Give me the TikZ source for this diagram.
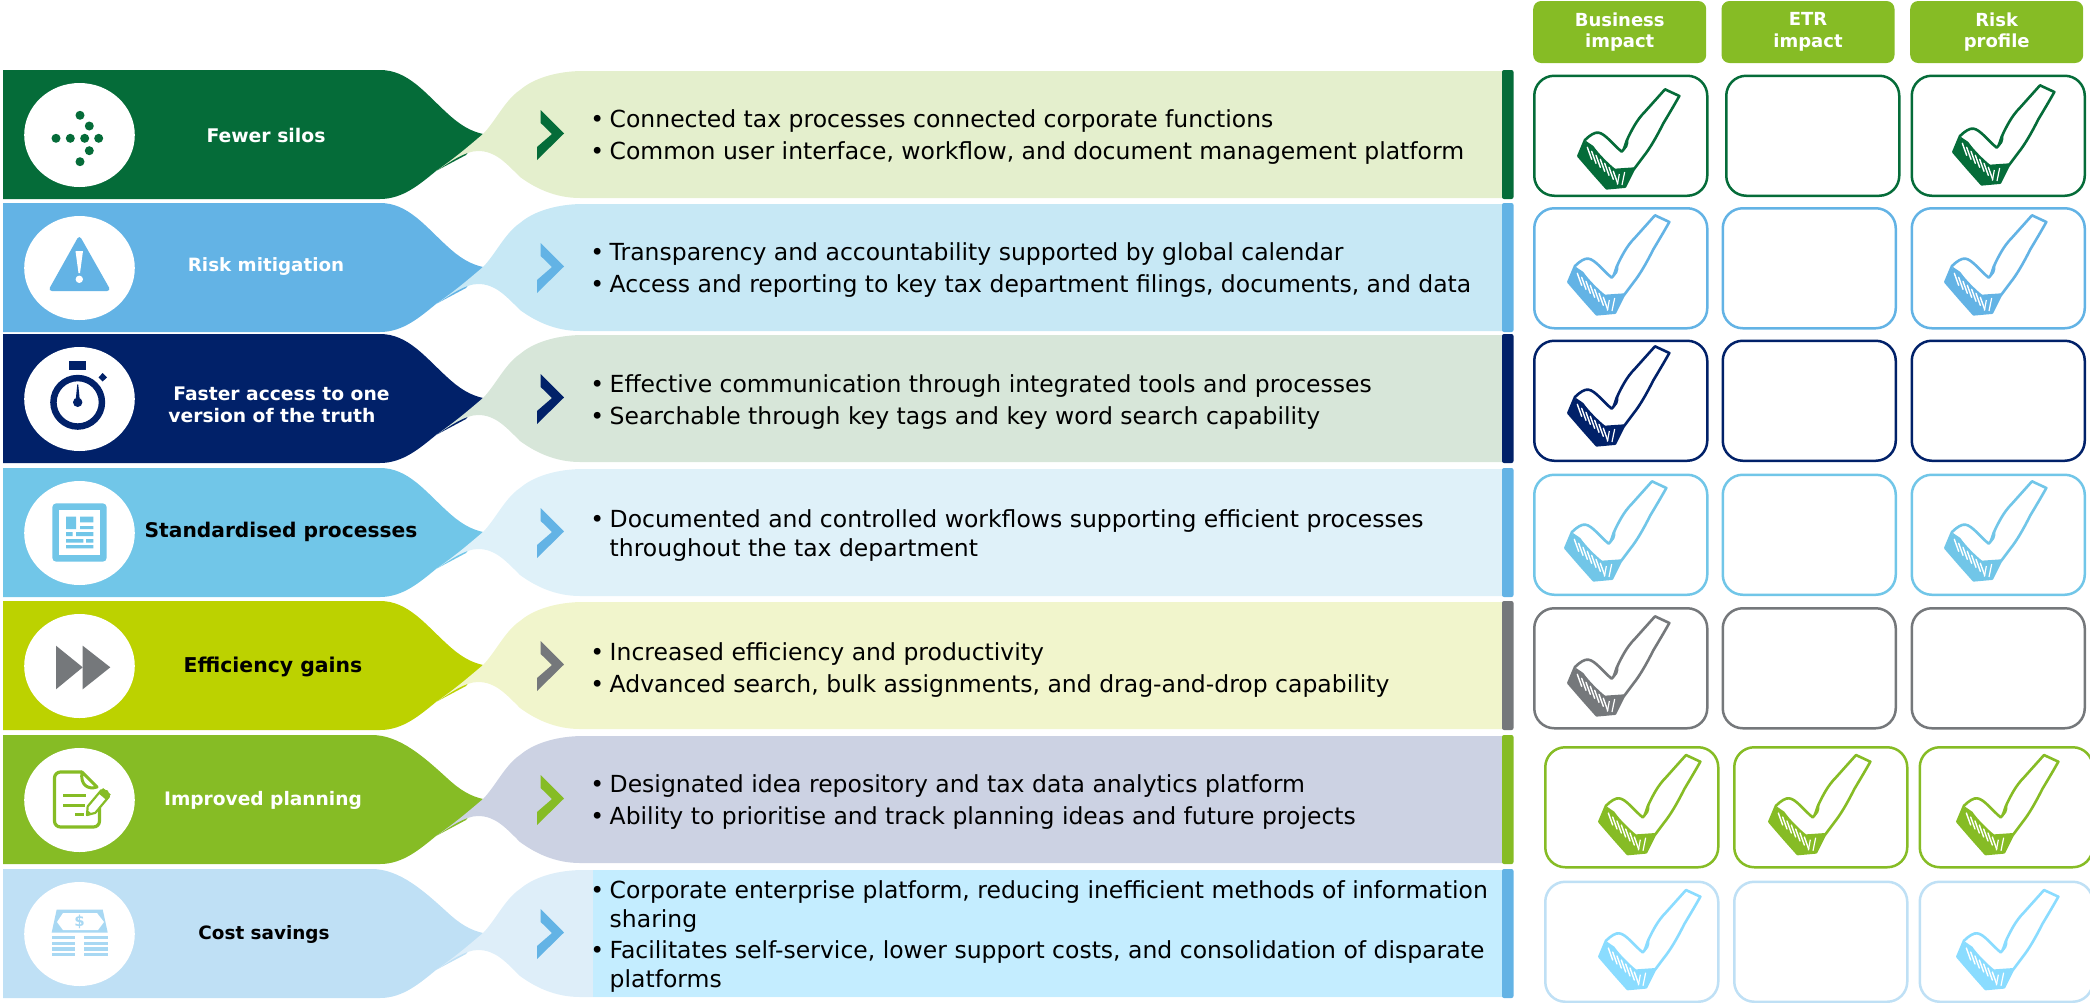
\documentclass[tikz,border=0pt]{standalone}
\usepackage{fontspec}
\setmainfont{DejaVu Sans}
\definecolor{cGreenD}{HTML}{056C39}
\definecolor{cBlue}{HTML}{63B3E5}
\definecolor{cNavy}{HTML}{012169}
\definecolor{cCyan}{HTML}{71C6E8}
\definecolor{cLime}{HTML}{BCD200}
\definecolor{cGray}{HTML}{75787B}
\definecolor{cGreen}{HTML}{86BC25}
\definecolor{cPale}{HTML}{BFE0F5}
\definecolor{cTick}{HTML}{8ADCFF}
\definecolor{cMoney}{HTML}{A8D8F3}
\definecolor{lGreenD}{HTML}{E4EFCD}
\definecolor{lBlue}{HTML}{C7E8F5}
\definecolor{lNavy}{HTML}{D7E6D9}
\definecolor{lCyan}{HTML}{DFF1F9}
\definecolor{lLime}{HTML}{F1F5CC}
\definecolor{lGreen}{HTML}{CCD2E3}
\definecolor{lPale}{HTML}{DEEEF9}
\definecolor{lSky}{HTML}{C4EDFF}
\newcommand{\bul}{\llap{\makebox[25pt][c]{•}}\rule{0pt}{20pt}}
% top, curve start, dark, light, accent
\newcommand{\banner}[5]{%
 \begin{scope}[shift={(0,#1)}]
 \fill[#3] (3,0) -- (#2,0) .. controls ({#2+28},0) and (425,23) .. (447,43)
   .. controls (460,55) and (470,61) .. (483,64) -- (466,85) -- (436,101)
   .. controls (420,114) and (403,129) .. (380,129) -- (3,129) -- cycle;
 \fill[#4] (436,101) .. controls (455,88) and (470,75) .. (483,64)
   .. controls (495,52) and (505,30) .. (520,20) .. controls (535,7) and (560,1) .. (583,1)
   -- (1503,1) -- (1503,128) -- (580,128)
   .. controls (555,128) and (535,118) .. (520,107) .. controls (505,92) and (495,81) .. (478,81)
   .. controls (465,81) and (450,92) .. (436,101) -- cycle;
 \fill[#5,rounded corners=2pt] (1502,0) -- (1513.5,0) -- (1513.5,129) -- (1502,129) -- cycle;
 \fill[#5] (540.7,40) -- (564,63.5) -- (537,90) -- (537,77) -- (552,64) -- (540.7,53) -- cycle;
 \fill[white] (79.5,65) ellipse [x radius=55.3pt,y radius=52pt];
 \end{scope}}
% the hand-drawn tick; origin = top-left of crop at row 1, column 1
\tikzset{pics/tick/.style={code={
 \begin{scope}[x=0.3333pt,y=-0.3333pt]
 \filldraw[fill=white,draw=#1,line width=2.6pt,line join=round]
   (405,58) -- (448,78) .. controls (430,110) and (415,135) .. (400,160)
   .. controls (380,200) and (360,235) .. (340,260) -- (310,300) -- (285,350) -- (230,355)
   -- (190,310) -- (145,258) -- (165,210) .. controls (180,195) and (195,186) .. (205,188)
   .. controls (225,190) and (250,225) .. (275,245)
   .. controls (283,240) and (285,225) .. (290,212) .. controls (305,180) and (320,150) .. (345,125) -- cycle;
 \fill[#1] (168,213) -- (145,258) -- (190,310) -- (230,355) -- (285,350) -- (312,292)
   -- (255,296) .. controls (235,280) and (205,250) .. (190,228) -- cycle;
 \fill[#1] (275,245) .. controls (282,235) and (285,218) .. (295,205) .. controls (298,225) and (290,240) .. (275,245) -- cycle;
 \foreach \a in {0,1,2,3,4,5,6}{
   \draw[white,line width=1.4pt,line cap=round] ({172+\a*13},{232+\a*12}) -- ({185+\a*13},{268+\a*12});}
 \draw[white,line width=1.2pt] (268,312) -- (262,344);
 \draw[white,line width=1.2pt] (284,306) -- (276,345);
 \end{scope}}}}
\tikzset{
 headbox/.style={fill=cGreen,rounded corners=8pt,text=white,font=\fontsize{18}{21.5}\selectfont\bfseries,align=center,minimum width=173pt,minimum height=62pt,inner sep=0pt},
 cell/.style={draw=#1,line width=2.5pt,rounded corners=20pt,fill=white,minimum width=173pt,minimum height=120pt,inner sep=0pt,anchor=north west},
 lab/.style={text=white,font=\fontsize{18.5}{22}\selectfont\bfseries,align=center,inner sep=0pt},
 labk/.style={text=black,font=\fontsize{18.5}{22}\selectfont\bfseries,align=center,inner sep=0pt},
 bodytxt/.style={anchor=north west,inner sep=0pt,align=left,text=black,font=\fontsize{23.5}{32}\selectfont},
 bodytight/.style={bodytxt,font=\fontsize{23.5}{29}\selectfont}
}
\begin{document}
\begin{tikzpicture}[x=1pt,y=-1pt]
\useasboundingbox (0,0) rectangle (2090,1002);
\banner{70}{380}{cGreenD}{lGreenD}{cGreenD}
\banner{203}{380}{cBlue}{lBlue}{cBlue}
\banner{334}{380}{cNavy}{lNavy}{cNavy}
\banner{468}{380}{cCyan}{lCyan}{cBlue}
\banner{601}{380}{cLime}{lLime}{cGray}
\banner{735}{372}{cGreen}{lGreen}{cGreen}
\banner{869}{372}{cPale}{lPale}{cBlue}
\fill[lSky] (593,870) rectangle (1502,997);
% icon 1: dots
\foreach \p in {(80,115.3),(89.3,126),(56,138.3),(70.3,138.3),(84.7,138.3),(98.7,138.3),(89.3,150.7),(80,161.7)}{\fill[cGreenD] \p circle (4.5);}
% icon 2: warning
\fill[cBlue,rounded corners=4pt] (79.3,235) -- (111,291) -- (48,291) -- cycle;
\fill[white] (75.5,251) -- (83,251) -- (80,273) -- (78.5,273) -- cycle;
\fill[white] (79.3,279.3) circle (3.7);
% icon 3: stopwatch
\fill[cNavy] (69.3,361) rectangle (86,370.3);
\fill[cNavy] (102.7,373) -- (107,377.3) -- (102.7,381.5) -- (98.5,377.3) -- cycle;
\fill[cNavy,even odd rule] (77.7,402.3) circle (27.5) (77.7,402.3) circle (21);
\fill[cNavy] (77.7,402.3) circle (4.7);
\fill[cNavy] (75.5,402) -- (77.3,384.3) -- (78.2,384.3) -- (80,402) -- cycle;
% icon 4: document
\fill[cCyan,rounded corners=4pt] (52.3,503.3) rectangle (106.7,561.7);
\fill[white] (59,510) rectangle (100,555);
\fill[cCyan] (66,516.7) rectangle (76,529) (80,516.7) rectangle (93.3,522.3) (80,526) rectangle (93.3,529)
 (66,532) rectangle (72.7,536) (76,532) rectangle (93.3,536) (66,539) rectangle (83.3,542.7) (86,539) rectangle (93.3,542.7) (66,545) rectangle (93.3,548.3);
% icon 5: fast forward
\fill[cGray] (56,645.7) -- (82.7,667.3) -- (56,689.3) -- cycle;
\fill[cGray] (82.7,645.7) -- (110.3,667.3) -- (82.7,689.3) -- cycle;
% icon 6: note and pencil
\draw[cGreen,line width=3.2pt,rounded corners=6pt] (82,772) -- (54.5,772) -- (54.5,827) -- (99.5,827) -- (99.5,808);
\draw[cGreen,line width=3pt,line join=round] (82,772) .. controls (80,785) and (88,790) .. (97,787) -- (82,772) -- cycle;
\draw[cGreen,line width=3pt] (63,795.7) -- (86,795.7) (63,805) -- (85,805) (75,814) -- (84,814);
\begin{scope}[shift={(87,815)},rotate=50]
\filldraw[fill=white,draw=cGreen,line width=2.2pt,line join=round] (0,0) -- (7,-5) -- (28,-5) -- (31,0) -- (28,5) -- (7,5) -- cycle;
\fill[cGreen] (0,0) -- (4,-3) -- (4,3) -- cycle;
\fill[cGreen] (24,-5) rectangle (31,5);
\end{scope}
% icon 7: money
\fill[cMoney] (56.7,909.5) -- (102.7,909.5) -- (107.7,932.5) -- (51.7,932.5) -- cycle;
\fill[white] (63,913) -- (97,913) -- (104,922) -- (98,930) -- (63,930) -- (57,922) -- cycle;
\node[text=cMoney,inner sep=0pt,font=\fontsize{15}{15}\selectfont\bfseries] (dollar) at (79.5,922) {\$};
\foreach \y/\h in {935.7/3.5,941.7/3.3,947.3/3.3,953.3/3}{
 \fill[cMoney] (51.7,\y) rectangle (75,\y+\h);
 \fill[cMoney] (84.3,\y) rectangle (107.7,\y+\h);}
% left labels
\node[lab,font=\fontsize{18.8}{22}\selectfont\bfseries] (t1) at (266,135) {Fewer silos};
\node[lab,font=\fontsize{18.3}{22}\selectfont\bfseries] (t2) at (266,267) {Risk mitigation};
\node[lab,align=left,font=\fontsize{18.7}{22}\selectfont\bfseries] (t3) at (279,405) {\hspace*{5pt}Faster access to one\\version of the truth};
\node[labk,font=\fontsize{20.2}{24}\selectfont\bfseries] (t4) at (281,532) {Standardised processes};
\node[labk,font=\fontsize{20.4}{24}\selectfont\bfseries] (t5) at (273,667) {Efficiency gains};
\node[lab,font=\fontsize{18.6}{22}\selectfont\bfseries] (t6) at (263,800) {Improved planning};
\node[labk,font=\fontsize{18.4}{22}\selectfont\bfseries] (t7) at (264,934) {Cost savings};
% body text
\node[bodytxt] (b1) at (609.5,107.5) {\bul Connected tax processes connected corporate functions\\\bul Common user interface, workflow, and document management platform};
\node[bodytxt] (b2) at (609.5,240) {\bul Transparency and accountability supported by global calendar\\\bul Access and reporting to key tax department filings, documents, and data};
\node[bodytxt] (b3) at (609.5,372) {\bul Effective communication through integrated tools and processes\\\bul Searchable through key tags and key word search capability};
\node[bodytight] (b4) at (609.5,507) {\bul Documented and controlled workflows supporting efficient processes\\throughout the tax department};
\node[bodytxt] (b5) at (609.5,640) {\bul Increased efficiency and productivity\\\bul Advanced search, bulk assignments, and drag-and-drop capability};
\node[bodytxt] (b6) at (609.5,772) {\bul Designated idea repository and tax data analytics platform\\\bul Ability to prioritise and track planning ideas and future projects};
\node[bodytight] (b7) at (609.5,878) {\bul Corporate enterprise platform, reducing inefficient methods of information\\sharing\\[2pt]\bul Facilitates self-service, lower support costs, and consolidation of disparate\\platforms};
% header boxes
\node[headbox] (h1) at (1619.7,32) {Business\\impact};
\node[headbox] (h2) at (1808,32) {ETR\\impact};
\node[headbox] (h3) at (1996.7,32) {Risk\\profile};
% cells
\node[cell=cGreenD] (c11) at (1533,74.5) {};
\node[cell=cGreenD] (c12) at (1725,74.5) {};
\node[cell=cGreenD] (c13) at (1910.5,74.5) {};
\node[cell=cBlue] (c21) at (1533,207) {};
\node[cell=cBlue] (c22) at (1721.5,207) {};
\node[cell=cBlue] (c23) at (1910.5,207) {};
\node[cell=cNavy] (c31) at (1533,339.5) {};
\node[cell=cNavy] (c32) at (1721.5,339.5) {};
\node[cell=cNavy] (c33) at (1910.5,339.5) {};
\node[cell=cCyan] (c41) at (1533,473.5) {};
\node[cell=cCyan] (c42) at (1721.5,473.5) {};
\node[cell=cCyan] (c43) at (1910.5,473.5) {};
\node[cell=cGray] (c51) at (1533,607) {};
\node[cell=cGray] (c52) at (1721.5,607) {};
\node[cell=cGray] (c53) at (1910.5,607) {};
\node[cell=cGreen] (c61) at (1544,746) {};
\node[cell=cGreen] (c62) at (1733,746) {};
\node[cell=cGreen] (c63) at (1918.5,746) {};
\node[cell=cPale] (c71) at (1544,880.5) {};
\node[cell=cPale] (c72) at (1733,880.5) {};
\node[cell=cPale] (c73) at (1918.5,880.5) {};
% ticks
\pic at (1530,70) {tick=cGreenD};
\pic at (1905,66) {tick=cGreenD};
\pic at (1520,196) {tick=cBlue};
\pic at (1897,196) {tick=cBlue};
\pic at (1520,327) {tick=cNavy};
\pic at (1517,462) {tick=cCyan};
\pic at (1897,462) {tick=cCyan};
\pic at (1520,597) {tick=cGray};
\pic at (1551,735.7) {tick=cGreen};
\pic at (1721,735.7) {tick=cGreen};
\pic at (1909,735.7) {tick=cGreen};
\pic at (1551,870.7) {tick=cTick};
\pic at (1909,870.7) {tick=cTick};
\end{tikzpicture}
\end{document}
